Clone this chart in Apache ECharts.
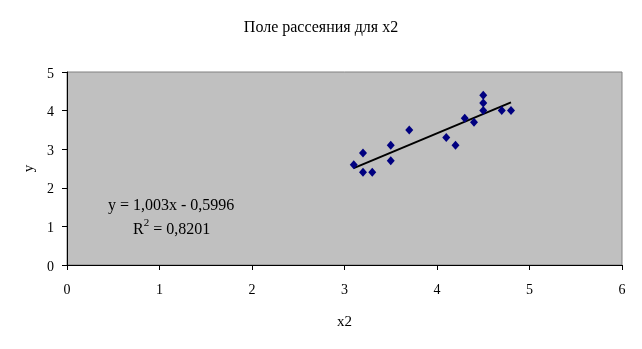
<!DOCTYPE html>
<html>
<head>
<meta charset="utf-8">
<script src="https://cdn.jsdelivr.net/npm/echarts@6/dist/echarts.min.js"></script>
<style>html,body{margin:0;padding:0;background:#fff}#c{width:642px;height:349px}</style>
</head>
<body>
<div id="c"></div>
<script>
var titleText = 'Поле рассеяния для x2';
var xName = 'x2';
var yName = 'y';
var xValues = [3.1, 3.2, 3.2, 3.3, 3.5, 3.5, 3.7, 4.1, 4.2, 4.3, 4.4, 4.5, 4.5, 4.5, 4.7, 4.8];
var yValues = [2.6, 2.9, 2.4, 2.4, 3.1, 2.7, 3.5, 3.3, 3.1, 3.8, 3.7, 4.4, 4.2, 4.0, 4.0, 4.0];
var trendSlope = 1.003;
var trendIntercept = -0.5996;
var equationText = 'y = 1,003x - 0,5996';
var r2Value = '0,8201';

var pts = xValues.map(function(x, i){ return [x, yValues[i]]; });
var xmin = Math.min.apply(null, xValues), xmax = Math.max.apply(null, xValues);
var trend = [[xmin, trendSlope*xmin + trendIntercept], [xmax, trendSlope*xmax + trendIntercept]];

var font = '"Liberation Serif", "Times New Roman", serif';
var chart = echarts.init(document.getElementById('c'));
chart.setOption({
  animation: false,
  backgroundColor: '#fff',
  title: { text: titleText, left: 'center', top: 15,
    textStyle: { fontFamily: font, fontSize: 16, fontWeight: 'normal', color: '#000' } },
  grid: { left: 67, right: 20, top: 72, bottom: 84, show: true,
    backgroundColor: '#C0C0C0', borderColor: '#808080', borderWidth: 1 },
  xAxis: {
    type: 'value', min: 0, max: 6, interval: 1,
    name: xName, nameLocation: 'middle', nameGap: 50,
    nameTextStyle: { fontFamily: font, fontSize: 15, color: '#000' },
    axisLine: { show: true, lineStyle: { color: '#000', width: 1 } },
    axisTick: { show: true, inside: false, length: 5, lineStyle: { color: '#000' } },
    axisLabel: { fontFamily: font, fontSize: 14, color: '#000', margin: 18 },
    splitLine: { show: false }
  },
  yAxis: {
    type: 'value', min: 0, max: 5, interval: 1,
    name: yName, nameLocation: 'middle', nameGap: 30, nameRotate: 90,
    nameTextStyle: { fontFamily: font, fontSize: 15, color: '#000' },
    axisLine: { show: true, lineStyle: { color: '#000', width: 1 } },
    axisTick: { show: true, inside: false, length: 5, lineStyle: { color: '#000' } },
    axisLabel: { fontFamily: font, fontSize: 14, color: '#000', margin: 13, verticalAlign: 'top', padding: [-5, 0, 0, 0] },
    splitLine: { show: false }
  },
  graphic: [
    { type: 'text', left: 108, top: 198,
      style: { text: equationText, font: '16px ' + font, fill: '#000' } },
    { type: 'text', left: 133, top: 218,
      style: { text: '{a|R}{s|2}{a| = ' + r2Value + '}',
        rich: { a: { fontFamily: font, fontSize: 16, color: '#000', verticalAlign: 'bottom', lineHeight: 20 },
                s: { fontFamily: font, fontSize: 11, color: '#000', verticalAlign: 'top', lineHeight: 20, padding: [0,0,8,0] } } } }
  ],
  series: [
    { type: 'line', data: trend, showSymbol: false, symbol: 'none',
      lineStyle: { color: '#000', width: 2 }, z: 2 },
    { type: 'scatter', data: pts, symbol: 'diamond', symbolSize: [8, 9],
      itemStyle: { color: '#000080', opacity: 1 }, z: 3 }
  ]
});
</script>
</body>
</html>
